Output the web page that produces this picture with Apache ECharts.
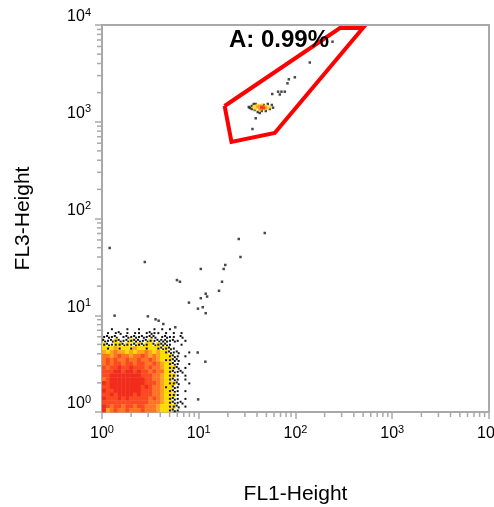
<!DOCTYPE html>
<html>
<head>
<meta charset="utf-8">
<script src="https://cdn.jsdelivr.net/npm/echarts@6/dist/echarts.min.js"></script>
<style>
  html, body { margin: 0; padding: 0; background: #fff; }
  #chart { width: 494px; height: 507px; }
</style>
</head>
<body>
<div id="chart"></div>
<script>
  // main population, density levels per 0.04-decade bin (top row first, from x=10^0 / y=10^0)
  // ' ' empty, '.' ':' black events, y/Y yellow, o orange, O orange-red, r red-orange, R red
  const blobStep = 0.04
  const blobRows = [
    '  .   .  .   . . .     ',
    ' . .: . .. .:.. . . .  ',
    '.:.: .:.:.:.:: .:.. :  ',
    ':.:Y:.:Y::.:Y.:::.:. . ',
    'Y:.YY:Y.:Y:Yy:Y::.  .  ',
    'yYyoYyyYoyyYyyY:Y:.    ',
    'oyoOooyoyooOoyoyY:.:  .',
    'OOoOrOOoOOrOoOoyyY:. . ',
    'OrOrOOrOOrOOrOoyYY::   ',
    'OrOrrOrrOrrOOrOoyY:.  .',
    'rOrrRrrRrrrOrOOoyYY: . ',
    'rrrRRrRRrRrrOrOOyY:.:  ',
    'rrRRRRRRRRrrrOOoyYY. . ',
    'OrRRRRRRRRRrrOOoyY:. . ',
    'RrRRRRRRRRRrrrOoyYY:  .',
    'rrRRRRRRRRrRrOOoYy:.   ',
    'RrrRRRRRRRrrrOOoyY:. . ',
    'rrRrRRRRrRrrrOOoyYY.   ',
    'RrrrRrRrrrrrOrOoyY:. . ',
    'rrrrrrrrrrrrOOOoyY:.:  ',
    'RrOrrOrrOrrOOOoyyYY: . ',
    'RoOrOOrOOOrOOOoyyY:.   '
  ]

  // scattered single events
  const outlierX = [48.1, 25.9, 2.77, 27.0, 18.8, 10.5, 18.1, 5.95, 6.39, 17.4, 16.2, 11.8, 12.2, 10.5,
    7.92, 11.0, 9.81, 11.8, 2.98, 3.58, 3.85, 4.30, 5.72, 1.20, 1.35, 9.75, 11.7, 9.86,
    241.5, 140.6, 98.4, 85.3, 82.6, 66.1, 71.6, 77.5, 68.8, 57.5, 38.8, 35.9, 42.7, 58.6]
  const outlierY = [70.8, 61.4, 35.5, 40.0, 33.1, 30.1, 30.1, 23.1, 22.2, 22.2, 17.9, 16.7, 15.6, 15.0,
    13.5, 12.1, 11.7, 10.5, 9.75, 9.08, 8.78, 8.12, 7.51, 49.6, 9.9, 4.12, 3.31, 1.35,
    6720, 4095, 2880, 2747, 2497, 2045, 2045, 2045, 1913, 1936, 1086, 841, 1231, 1397]

  // small gated cluster
  const clusterBlack = [[32.9, 1421], [35.3, 1455], [37.0, 1526], [38.8, 1526], [37.9, 1323], [40.7, 1261],
    [44.8, 1292], [49.3, 1292], [54.2, 1354], [56.9, 1490], [51.7, 1526], [47.0, 1490], [35.3, 1354], [33.7, 1387]]
  const clusterYellow = [[37.0, 1421], [38.8, 1455], [40.7, 1490], [44.8, 1490], [49.3, 1455], [54.2, 1421],
    [38.8, 1354], [42.7, 1323], [47.0, 1354], [51.7, 1387]]
  const clusterOrange = [[40.7, 1421], [42.7, 1455], [47.0, 1421], [49.3, 1387], [42.7, 1354]]
  const clusterRed = [[44.8, 1421], [44.8, 1387], [47.0, 1387]]

  // gate A polygon
  const gateX = [18.5, 21.8, 61, 497, 288, 18.5]
  const gateY = [1455, 618, 765, 9310, 9310, 1455]
  const gateLabel = 'A: 0.99%'

  const levelColors = {
    y: '#ffdc00', Y: '#ffdc00', o: '#ffa225', O: '#ff7424', r: '#fb4a22', R: '#f22c1c'
  }
  const font = 'Liberation Sans, Arial, sans-serif'
  const axisGray = '#a9a9a9'

  const blobData = []
  blobRows.forEach((row, i) => {
    const r = blobRows.length - 1 - i
    for (let c = 0; c < row.length; c++) {
      const ch = row[c]
      if (ch === ' ') continue
      blobData.push([
        Math.pow(10, c * blobStep), Math.pow(10, r * blobStep),
        Math.pow(10, (c + 1) * blobStep), Math.pow(10, (r + 1) * blobStep),
        ch
      ])
    }
  })

  const minorTicks = []
  for (let d = 0; d < 4; d++) {
    for (let k = 2; k < 10; k++) minorTicks.push(k * Math.pow(10, d))
  }

  function renderBlob(params, api) {
    const p0 = api.coord([api.value(0), api.value(1)])
    const p1 = api.coord([api.value(2), api.value(3)])
    const ch = blobData[params.dataIndex][4]
    const x = p0[0], y = p1[1], w = p1[0] - p0[0], h = p0[1] - p1[1]
    const children = []
    if (levelColors[ch]) {
      children.push({ type: 'rect', shape: { x: x, y: y, width: w + 0.4, height: h + 0.4 }, style: { fill: levelColors[ch] } })
    }
    if (ch === '.' || ch === 'Y') {
      children.push({ type: 'rect', shape: { x: x + w * 0.3, y: y + h * 0.35, width: 2, height: 2 }, style: { fill: '#111' } })
    }
    if (ch === ':') {
      children.push({ type: 'rect', shape: { x: x + w * 0.05, y: y + h * 0.1, width: 2, height: 2 }, style: { fill: '#111' } })
      children.push({ type: 'rect', shape: { x: x + w * 0.55, y: y + h * 0.55, width: 2, height: 2 }, style: { fill: '#111' } })
    }
    return { type: 'group', children: children }
  }

  function renderMinor(params, api) {
    const v = minorTicks[params.dataIndex % minorTicks.length]
    if (params.dataIndex < minorTicks.length) {
      const p = api.coord([v, 1])
      return { type: 'line', shape: { x1: p[0], y1: p[1], x2: p[0], y2: p[1] + 5 }, style: { stroke: axisGray, lineWidth: 1.5 } }
    }
    const p = api.coord([1, v])
    return { type: 'line', shape: { x1: p[0] - 5, y1: p[1], x2: p[0], y2: p[1] }, style: { stroke: axisGray, lineWidth: 1.5 } }
  }

  function powLabel(value) {
    return '{b|10}{e|' + Math.round(Math.log10(value)) + '}'
  }
  const labelRich = {
    b: { fontSize: 16, lineHeight: 18, verticalAlign: 'bottom', fontFamily: font, color: '#000' },
    e: { fontSize: 11, lineHeight: 11, verticalAlign: 'top', fontFamily: font, color: '#000' }
  }

  const chart = echarts.init(document.getElementById('chart'))
  chart.setOption({
    animation: false,
    grid: {
      left: 102, right: 5, top: 25, bottom: 95,
      outerBoundsMode: 'none',
      containLabel: false,
      show: true, borderColor: axisGray, borderWidth: 2
    },
    xAxis: {
      type: 'log', logBase: 10, min: 1, max: 10000,
      name: 'FL1-Height', nameLocation: 'middle', nameGap: 72,
      nameTextStyle: { fontSize: 21, color: '#000', fontFamily: font },
      axisLine: { lineStyle: { color: axisGray, width: 2 } },
      axisTick: { length: 7, lineStyle: { color: axisGray, width: 1.5 } },
      axisLabel: { margin: 12, formatter: powLabel, rich: labelRich },
      splitLine: { show: false }
    },
    yAxis: {
      type: 'log', logBase: 10, min: 1, max: 10000,
      name: 'FL3-Height', nameLocation: 'middle', nameGap: 68,
      nameTextStyle: { fontSize: 21, color: '#000', fontFamily: font },
      axisLine: { lineStyle: { color: axisGray, width: 2 } },
      axisTick: { length: 7, lineStyle: { color: axisGray, width: 1.5 } },
      axisLabel: { margin: 11, verticalAlign: 'bottom', formatter: powLabel, rich: labelRich },
      splitLine: { show: false }
    },
    series: [
      {
        type: 'custom',
        renderItem: renderBlob,
        encode: { x: [0, 2], y: [1, 3] },
        data: blobData,
        silent: true
      },
      {
        type: 'scatter',
        symbol: 'rect',
        symbolSize: 2.5,
        itemStyle: { color: '#1a1a1a' },
        data: outlierX.map((x, i) => [x, outlierY[i]]),
        silent: true
      },
      { type: 'scatter', symbol: 'rect', symbolSize: 2.5, itemStyle: { color: '#1a1a1a' }, data: clusterBlack, silent: true },
      { type: 'scatter', symbol: 'rect', symbolSize: 3, itemStyle: { color: '#ffdc00' }, data: clusterYellow, silent: true },
      { type: 'scatter', symbol: 'rect', symbolSize: 3, itemStyle: { color: '#ff8a24' }, data: clusterOrange, silent: true },
      { type: 'scatter', symbol: 'rect', symbolSize: 3, itemStyle: { color: '#f22c1c' }, data: clusterRed, silent: true },
      {
        type: 'line',
        data: gateX.map((x, i) => [x, gateY[i]]),
        showSymbol: false,
        symbol: 'none',
        lineStyle: { color: '#ff0000', width: 4, join: 'miter' },
        z: 5,
        silent: true
      },
      {
        type: 'custom',
        renderItem: renderMinor,
        data: minorTicks.concat(minorTicks).map(v => [v, v]),
        clip: false,
        silent: true
      }
    ],
    graphic: [{
      type: 'text',
      left: 229,
      top: 28,
      z: 10,
      style: { text: gateLabel, font: 'bold 24px ' + font, fill: '#000' }
    }]
  })
</script>
</body>
</html>
